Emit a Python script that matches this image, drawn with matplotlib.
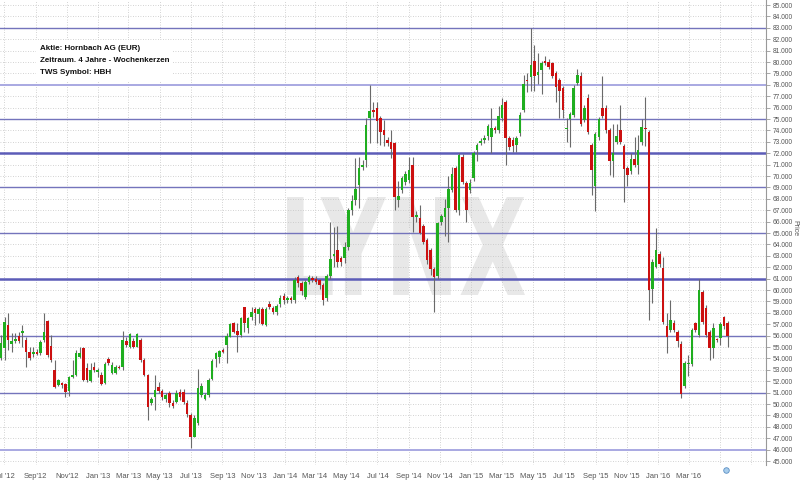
import numpy as np
import matplotlib
matplotlib.use("Agg")
import matplotlib.pyplot as plt
import matplotlib.dates as mdates
from matplotlib.font_manager import FontProperties
from matplotlib.patches import PathPatch, Rectangle
from matplotlib.textpath import TextPath
from matplotlib.transforms import Affine2D

# weekly candles, Hornbach AG
first_week = np.datetime64("2012-06-25")

opens = [
    54.00, 54.88, 56.93, 55.26, 55.55, 55.96, 56.25, 55.61, 54.59, 54.38,
    54.59, 54.44, 55.61, 57.31, 55.09, 52.98, 51.66, 51.87, 51.75, 51.17,
    52.39, 52.54, 54.15, 54.94, 53.13, 52.04, 53.27, 52.83, 52.54, 51.81,
    53.94, 52.75, 52.69, 53.27, 53.27, 55.55, 55.03, 55.55, 55.03, 55.61,
    53.86, 52.54, 50.06, 50.64, 51.46, 51.17, 50.41, 50.93, 50.11, 50.20,
    51.05, 51.05, 50.06, 49.03, 47.13, 48.30, 50.79, 50.41, 50.79, 52.16,
    53.92, 54.09, 54.73, 55.17, 55.90, 57.07, 56.43, 56.05, 58.48, 56.63,
    57.66, 58.30, 57.89, 58.30, 56.90, 58.80, 58.40, 58.10, 58.80, 59.50,
    59.10, 59.30, 59.10, 61.10, 60.60, 59.40, 60.70, 61.00, 61.00, 60.90,
    60.40, 59.30, 61.20, 63.00, 63.50, 62.80, 62.80, 63.80, 67.00, 67.90,
    69.20, 70.80, 71.40, 75.06, 75.80, 76.00, 75.06, 74.00, 73.20, 72.95,
    72.90, 67.90, 68.80, 69.50, 69.65, 71.00, 66.40, 66.30, 65.60, 64.40,
    63.50, 61.80, 61.20, 66.00, 66.40, 67.20, 68.80, 70.70, 67.00, 71.70,
    69.40, 68.80, 69.80, 72.30, 72.90, 73.20, 73.50, 73.45, 74.20, 74.00,
    75.05, 76.50, 73.30, 73.20, 72.70, 73.74, 75.80, 78.40, 78.70, 80.10,
    78.90, 79.30, 80.10, 80.00, 79.90, 79.00, 78.40, 77.70, 74.10, 75.00,
    75.35, 78.20, 78.80, 74.90, 76.80, 72.70, 69.10, 73.40, 76.00, 76.00,
    74.00, 71.30, 73.00, 74.00, 72.60, 70.70, 70.40, 71.50, 70.96, 73.00,
    74.20, 73.90, 60.10, 62.05, 63.20, 61.90, 56.80, 56.50, 57.10, 56.35,
    55.30, 51.60, 53.50, 53.50, 57.10, 56.05, 59.85, 58.40, 56.35, 54.90,
    55.70, 55.80, 57.60, 57.10,
]
closes = [
    55.32, 57.22, 55.61, 55.55, 55.73, 55.55, 56.40, 54.59, 54.00, 54.53,
    54.38, 55.47, 56.28, 54.30, 53.86, 51.46, 52.10, 51.66, 51.08, 52.34,
    52.54, 54.50, 54.50, 52.10, 52.10, 52.98, 52.98, 52.98, 51.75, 53.51,
    53.56, 53.42, 53.27, 53.13, 55.61, 55.17, 56.11, 55.03, 56.11, 53.86,
    52.54, 49.70, 50.41, 51.23, 51.17, 50.58, 50.79, 50.06, 49.82, 50.93,
    50.58, 50.20, 49.09, 47.13, 48.74, 51.37, 51.58, 50.79, 52.10, 53.80,
    54.44, 54.65, 54.59, 55.96, 57.01, 56.31, 56.05, 57.51, 57.07, 57.51,
    58.10, 58.01, 58.30, 57.00, 58.30, 58.50, 58.10, 58.60, 59.30, 59.10,
    59.30, 59.10, 60.90, 60.60, 59.90, 60.70, 61.10, 60.90, 60.70, 60.40,
    59.10, 61.20, 62.70, 63.10, 62.50, 62.50, 63.80, 67.00, 67.80, 68.90,
    70.70, 71.00, 74.50, 75.70, 75.60, 74.80, 73.90, 73.60, 72.90, 72.40,
    68.20, 68.25, 69.80, 70.20, 70.50, 66.40, 66.60, 65.00, 64.20, 62.60,
    61.80, 61.10, 65.85, 66.50, 67.20, 68.90, 70.20, 67.00, 71.80, 69.50,
    67.00, 69.40, 72.00, 72.70, 73.10, 73.30, 74.40, 74.20, 74.00, 75.26,
    76.20, 73.30, 72.57, 72.60, 73.30, 75.35, 78.10, 78.30, 79.70, 78.80,
    79.10, 79.90, 79.90, 79.60, 78.80, 77.80, 77.50, 75.80, 74.20, 75.40,
    77.70, 78.90, 74.60, 76.00, 73.90, 70.50, 73.70, 75.00, 75.30, 74.00,
    71.30, 72.00, 73.50, 73.00, 70.60, 70.10, 71.50, 71.00, 72.30, 74.26,
    74.10, 60.00, 62.50, 63.50, 62.30, 57.20, 55.90, 57.40, 56.50, 55.56,
    50.90, 53.60, 53.60, 56.50, 56.50, 60.00, 57.20, 56.05, 54.90, 56.70,
    55.60, 57.00, 56.80, 55.96,
]
highs = [
    56.05, 57.66, 57.95, 56.25, 56.20, 56.34, 56.93, 55.90, 55.03, 55.03,
    54.79, 55.61, 57.95, 57.37, 56.05, 53.86, 52.16, 51.96, 51.87, 52.45,
    53.86, 54.73, 55.03, 55.03, 53.56, 53.56, 53.71, 53.13, 52.83, 53.71,
    54.09, 53.71, 53.42, 53.42, 56.40, 55.90, 56.20, 55.76, 56.20, 55.76,
    54.00, 52.63, 50.64, 52.54, 51.96, 51.28, 50.93, 51.17, 50.35, 51.23,
    51.28, 51.28, 50.35, 49.18, 49.03, 53.04, 51.81, 50.93, 52.25, 53.92,
    54.59, 54.73, 54.88, 56.20, 57.13, 57.22, 57.13, 57.66, 58.54, 57.66,
    58.54, 58.54, 58.54, 58.50, 58.50, 59.00, 58.60, 58.80, 59.60, 59.70,
    59.50, 59.50, 61.10, 61.30, 60.80, 60.90, 61.30, 61.20, 61.20, 61.00,
    60.60, 61.40, 66.00, 65.50, 65.60, 63.00, 64.20, 67.20, 68.30, 71.60,
    71.70, 71.40, 75.10, 78.00, 76.50, 76.50, 75.30, 74.90, 73.40, 74.00,
    73.00, 69.60, 70.00, 70.40, 71.70, 71.70, 66.90, 67.50, 65.80, 64.60,
    63.70, 62.00, 66.00, 66.70, 68.00, 70.00, 70.80, 70.90, 72.00, 71.90,
    69.60, 69.70, 72.20, 72.90, 73.30, 73.60, 74.60, 76.00, 74.40, 76.10,
    76.80, 76.70, 73.50, 73.40, 73.50, 75.60, 78.90, 79.00, 82.95, 81.50,
    80.80, 80.10, 80.50, 80.30, 80.00, 79.20, 78.60, 77.90, 75.05, 75.60,
    78.00, 79.40, 79.10, 76.20, 77.20, 72.90, 73.90, 75.20, 78.80, 76.20,
    74.20, 74.60, 74.60, 76.20, 72.80, 70.90, 72.00, 73.40, 73.60, 75.00,
    76.90, 74.00, 62.70, 65.40, 63.40, 62.90, 58.00, 59.10, 57.40, 56.50,
    55.50, 53.80, 54.30, 56.70, 57.20, 61.00, 60.00, 58.70, 56.50, 57.10,
    55.80, 57.20, 57.70, 57.30,
]
lows = [
    53.86, 53.86, 54.73, 54.59, 55.32, 55.38, 55.03, 53.27, 53.86, 54.15,
    54.30, 54.30, 55.47, 54.15, 53.71, 51.37, 51.58, 51.37, 50.58, 50.70,
    52.25, 52.45, 54.00, 52.04, 51.96, 51.96, 52.83, 52.39, 51.66, 51.75,
    53.42, 52.63, 52.63, 53.04, 52.98, 55.03, 54.88, 54.88, 54.97, 53.71,
    52.45, 48.59, 49.91, 49.47, 50.93, 50.35, 50.20, 49.76, 49.62, 50.06,
    50.35, 50.00, 48.89, 46.11, 47.07, 48.16, 50.64, 50.35, 50.64, 52.10,
    53.27, 53.56, 54.44, 53.56, 55.85, 56.20, 54.59, 55.90, 56.34, 56.20,
    57.37, 56.93, 57.07, 56.90, 56.80, 58.30, 57.90, 57.80, 58.50, 58.80,
    58.90, 58.90, 58.90, 60.30, 59.60, 59.20, 60.50, 60.70, 60.50, 60.10,
    58.70, 59.00, 61.00, 62.00, 62.00, 62.10, 62.40, 63.50, 66.60, 67.50,
    67.20, 70.50, 70.80, 72.90, 75.20, 72.90, 72.70, 72.60, 72.60, 71.55,
    67.00, 67.30, 68.50, 69.20, 69.40, 65.10, 66.00, 64.90, 64.00, 62.30,
    61.30, 58.10, 61.00, 65.70, 64.70, 64.20, 68.60, 66.80, 66.60, 69.30,
    66.00, 68.50, 69.60, 71.30, 72.70, 72.90, 73.20, 72.00, 73.80, 73.80,
    74.80, 70.96, 72.30, 72.10, 72.10, 73.50, 75.60, 77.40, 77.50, 77.50,
    78.10, 77.20, 79.70, 79.40, 78.60, 76.50, 75.05, 75.05, 73.00, 72.57,
    75.20, 78.00, 74.40, 74.70, 73.70, 68.30, 66.90, 73.20, 75.10, 73.80,
    70.10, 69.90, 72.80, 72.80, 67.70, 69.10, 70.20, 70.80, 70.20, 72.70,
    72.60, 57.40, 58.90, 61.90, 62.00, 57.00, 54.50, 56.30, 56.30, 55.00,
    50.50, 51.40, 52.50, 53.30, 56.30, 55.90, 57.00, 55.90, 53.90, 54.00,
    55.40, 55.20, 56.60, 55.00,
]

# horizontal support / resistance lines
levels = [83, 78, 75, 72, 69, 65, 61, 56, 51, 46]
strong_levels = [72, 61]
light_levels = [78, 46]

# bi-monthly grid, labels stop at Mar '16
month_ticks = [
    "2012-07-01", "2012-09-01", "2012-11-01", "2013-01-01", "2013-03-01",
    "2013-05-01", "2013-07-01", "2013-09-01", "2013-11-01", "2014-01-01",
    "2014-03-01", "2014-05-01", "2014-07-01", "2014-09-01", "2014-11-01",
    "2015-01-01", "2015-03-01", "2015-05-01", "2015-07-01", "2015-09-01",
    "2015-11-01", "2016-01-01", "2016-03-01", "2016-05-01", "2016-07-01",
]
month_labels = [
    "Jul '12", "Sep'12", "Nov'12", "Jan '13", "Mar '13",
    "May '13", "Jul '13", "Sep '13", "Nov '13", "Jan '14",
    "Mar '14", "May '14", "Jul '14", "Sep '14", "Nov '14",
    "Jan '15", "Mar '15", "May '15", "Jul '15", "Sep '15",
    "Nov '15", "Jan '16", "Mar '16", "", "",
]

info_lines = ["Aktie: Hornbach AG (EUR)", "Zeitraum. 4 Jahre - Wochenkerzen", "TWS Symbol: HBH"]

NARROW = ["Liberation Sans Narrow", "Liberation Sans", "DejaVu Sans"]
plt.rcParams["font.family"] = NARROW

opens = np.array(opens)
closes = np.array(closes)
highs = np.array(highs)
lows = np.array(lows)
n = len(closes)
weeks = first_week + np.arange(n) * np.timedelta64(7, "D")
x = mdates.date2num(weeks)
x0 = mdates.date2num(first_week)

fig = plt.figure(figsize=(8, 4.86), dpi=100)
ax = fig.add_axes([0.0, 21 / 486, 766 / 800, 465 / 486])
ax.set_xlim(x0 - 2, x0 + 1496)
ax.set_ylim(44.65, 85.44)

# grid
ax.set_yticks(np.arange(45, 86))
ax.yaxis.set_major_formatter(plt.FuncFormatter(lambda v, p: f"{v:.3f}"))
ax.set_xticks(mdates.date2num(np.array(month_ticks, dtype="datetime64[D]")))
ax.set_xticklabels(month_labels)
ax.grid(True, ls=(0, (1, 2)), color="#c4c4c4", lw=0.6, zorder=1)
ax.set_axisbelow(True)

ax.yaxis.tick_right()
ax.tick_params(axis="y", length=3, width=0.6, color="#999999", labelsize=4.8,
               labelcolor="#555555", pad=2)
ax.tick_params(axis="x", length=0, labelsize=5.5, labelcolor="#555555", pad=6)
for s in ["left", "top", "bottom"]:
    ax.spines[s].set_visible(False)
ax.spines["right"].set_color("#999999")
ax.spines["right"].set_linewidth(0.8)

# LYNX watermark, squeezed into its box
tp = TextPath((0, 0), "LYNX", size=1, prop=FontProperties(family="DejaVu Sans", weight="bold"))
ext = tp.get_extents()
bx0, bx1 = 287 / 766, 525 / 766
by0, by1 = (465 - 295) / 465, (465 - 197) / 465
tr = (Affine2D().translate(-ext.x0, -ext.y0)
      .scale((bx1 - bx0) / ext.width, (by1 - by0) / ext.height)
      .translate(bx0, by0) + ax.transAxes)
ax.add_patch(PathPatch(tp, transform=tr, fc="#e8e8e8", ec="none", zorder=0.5))

# support lines
for lv in levels:
    if lv in strong_levels:
        ax.axhline(lv, color="#5c5cb8", lw=1.8, zorder=2)
    elif lv in light_levels:
        ax.axhline(lv, color="#a9a9e2", lw=1.4, zorder=2)
    else:
        ax.axhline(lv, color="#7474bc", lw=1.0, zorder=2)

# candles
up = closes >= opens
ax.vlines(x, lows, highs, color="#6a6a6a", lw=0.8, zorder=3)
bottoms = np.minimum(opens, closes)
heights = np.maximum(np.abs(closes - opens), 0.12)
ax.bar(x[up], heights[up], bottom=bottoms[up], width=5, color="#1fae1f", zorder=4)
ax.bar(x[~up], heights[~up], bottom=bottoms[~up], width=5, color="#cc1010", zorder=4)

# info text top left
ax.add_patch(Rectangle((36 / 766, (465 - 82) / 465), 136 / 766, 42 / 465,
                       transform=ax.transAxes, fc="white", ec="none", zorder=1.5))
for i, line in enumerate(info_lines):
    ax.text(40 / 766, (465 - 48 - 12.5 * i) / 465, line, transform=ax.transAxes,
            fontsize=5.8, fontweight="bold", color="#111111", va="center", ha="left",
            zorder=5)

fig.text(0.994, 1 - 228 / 486, "Price", rotation=270, fontsize=5, color="#555555",
         ha="center", va="center")

# small navigator icon under the plot
ax.plot([x0 + 202 * 7 + 3], [44.2], marker="o", ms=4, mfc="#a8cdec", mec="#5b8fc4",
        mew=0.6, clip_on=False, zorder=6)

fig.savefig("out.png", dpi=100)
